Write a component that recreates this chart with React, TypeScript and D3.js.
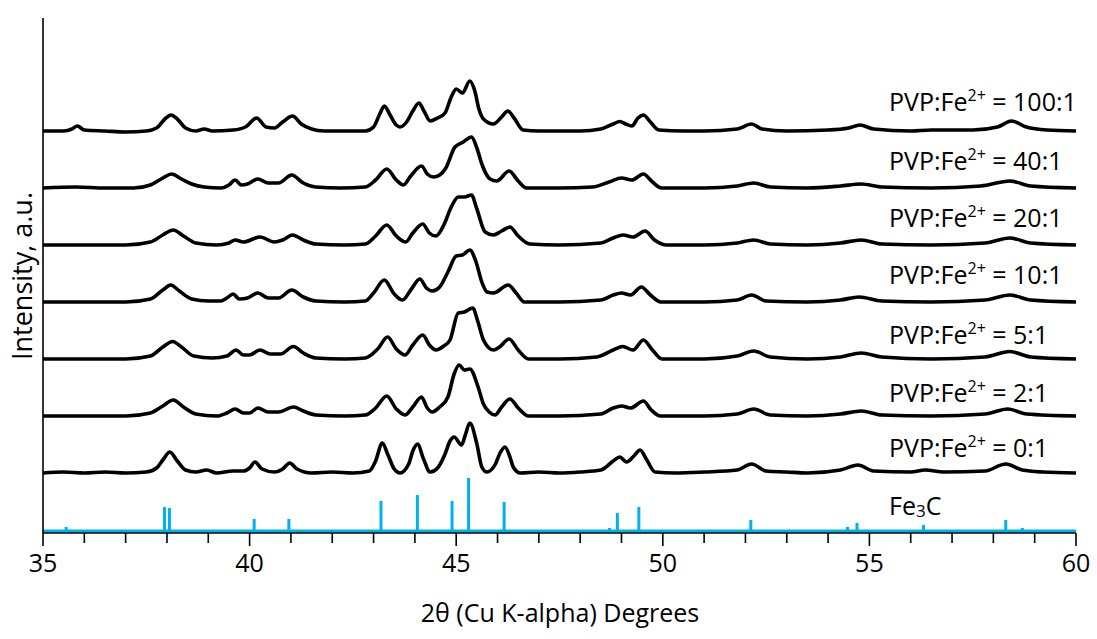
import React from "react";
import * as d3 from "d3";

// ---- data (2θ, intensity a.u.) ----
const seriesNames = ["0:1", "2:1", "5:1", "10:1", "20:1", "40:1", "100:1"];
const seriesOffsets = [60, 117, 174, 231, 288, 345, 402];

const s0: [number, number][] = [[35,0],[35.5,1],[36.0,0],[36.5,1],[37.0,0],[37.5,1],[37.75,5],[37.9,13],[38.07,21],[38.25,12],[38.45,3],[38.7,1],[38.96,3],[39.2,0],[39.6,2],[39.85,2],[40.0,5],[40.13,11],[40.3,4],[40.6,1],[40.8,4],[40.97,10],[41.15,4],[41.5,0],[42,1],[42.5,0],[42.9,2],[43.05,12],[43.21,30],[43.35,18],[43.5,4],[43.64,0],[43.85,9],[43.95,22],[44.07,29],[44.2,15],[44.37,1],[44.55,5],[44.73,19],[44.85,32],[44.95,36],[45.13,28],[45.22,38],[45.33,50],[45.5,29],[45.62,6],[45.74,1],[45.95,9],[46.05,19],[46.18,26],[46.3,16],[46.38,6],[46.55,0],[47,1],[47.5,0],[48,1],[48.5,3],[48.8,12],[48.96,16],[49.12,11],[49.3,17],[49.45,23],[49.6,14],[49.81,1],[50.3,0],[51,1],[51.8,3],[52.15,9],[52.5,2],[53,1],[53.5,0],[54.3,3],[54.72,8],[55.1,2],[56,1],[56.35,3],[56.8,1],[57.8,2],[58.3,9],[58.7,3],[59.2,1],[60,0]];
const s2: [number, number][] = [[35,0],[36,0],[37,0],[37.6,3],[37.9,10],[38.15,16],[38.4,9],[38.7,2],[39.2,0],[39.45,3],[39.65,7],[39.85,3],[40.0,3],[40.2,8],[40.45,4],[40.7,4],[41.06,9],[41.3,5],[41.6,1],[42.3,0],[42.8,1],[43.05,8],[43.32,20],[43.55,7],[43.76,1],[43.95,9],[44.16,19],[44.3,8],[44.42,4],[44.6,9],[44.8,19],[44.95,42],[45.07,51],[45.2,46],[45.33,47],[45.53,29],[45.66,12],[45.8,4],[45.94,1],[46.1,9],[46.3,17],[46.5,8],[46.75,0],[47.5,0],[48.5,2],[48.8,8],[49.0,10],[49.22,8],[49.53,15],[49.72,6],[49.95,0],[51,0],[51.8,2],[52.2,7],[52.6,1],[53.5,0],[54.3,2],[54.8,5],[55.3,1],[56.5,0],[57.8,2],[58.35,7],[58.8,2],[60,0]];
const s5: [number, number][] = [[35,0],[36,0],[37,0],[37.6,3],[37.9,12],[38.14,17.5],[38.35,12],[38.65,3],[39.1,1],[39.45,3],[39.67,9],[39.85,4],[40.0,4],[40.25,9],[40.5,5],[40.75,5],[41.06,12.5],[41.3,6],[41.6,1],[42.3,0],[42.8,1],[43.1,10],[43.34,22],[43.55,10],[43.76,4],[43.95,14],[44.19,24],[44.35,14],[44.51,9],[44.7,13],[44.85,19],[45.05,46],[45.2,47],[45.4,51],[45.52,38],[45.66,19],[45.9,9],[46.05,12],[46.28,20],[46.5,9],[46.75,0],[47.5,0],[48.4,2],[48.8,9],[49.03,12.5],[49.28,9],[49.53,19],[49.75,9],[49.98,0],[51,0],[51.8,3],[52.2,8],[52.6,2],[53.5,0],[54.3,2],[54.8,6],[55.3,2],[56.5,0],[57.8,2],[58.4,7.5],[58.9,2],[60,0]];
const s10: [number, number][] = [[35,0],[36,0],[37,0],[37.6,3],[37.9,12],[38.09,17],[38.3,11],[38.6,3],[39.0,1],[39.3,1],[39.45,4],[39.6,8],[39.75,3],[39.95,4],[40.2,9],[40.45,4],[40.7,4],[41.02,12],[41.3,5],[41.6,1],[42.3,0],[42.8,1],[43.0,9],[43.26,22],[43.5,8],[43.7,2],[43.9,12],[44.12,23],[44.28,14],[44.42,11],[44.6,15],[44.8,30],[45.0,46],[45.15,47],[45.33,52],[45.48,40],[45.62,20],[45.75,10],[45.9,9],[46.26,17],[46.45,9],[46.65,0],[47.5,0],[48.5,2],[48.8,7],[49.0,9],[49.22,7],[49.48,15],[49.7,7],[49.95,0],[51,0],[51.8,2],[52.15,7],[52.5,1],[53.5,0],[54.3,2],[54.75,5],[55.3,1],[56.5,0],[57.8,2],[58.4,7],[58.9,2],[60,0]];
const s20: [number, number][] = [[35,0],[36,0],[37,0],[37.6,3],[37.9,10],[38.15,15],[38.4,9],[38.7,2],[39.2,0],[39.5,2],[39.65,5],[39.85,3],[40.25,8],[40.6,3],[40.8,5],[41.04,10],[41.3,5],[41.6,1],[42.3,0],[42.8,1],[43.05,9],[43.32,20],[43.55,9],[43.78,3],[43.95,12],[44.19,21],[44.35,12],[44.51,9],[44.7,20],[44.88,38],[45.05,48],[45.2,48],[45.37,50],[45.5,36],[45.7,13],[45.9,10],[46.1,14],[46.3,18],[46.5,9],[46.78,1],[47.5,0],[48.5,2],[48.8,7],[49.04,10],[49.28,8],[49.57,14],[49.8,5],[50.1,0],[51,0],[51.8,2],[52.2,5],[52.6,1],[53.5,0],[54.3,2],[54.8,5],[55.3,1],[56.5,0],[57.8,2],[58.4,7],[58.9,2],[60,0]];
const s40: [number, number][] = [[35,0],[35.8,1],[36.5,0],[37.2,0],[37.6,3],[37.9,10],[38.11,14],[38.35,9],[38.6,4],[38.9,1],[39.3,0],[39.5,3],[39.65,8],[39.8,3],[39.95,4],[40.2,9],[40.45,5],[40.7,5],[41.02,13],[41.3,5],[41.6,1],[42.2,0],[42.8,1],[43.05,8],[43.32,19],[43.55,8],[43.72,3],[43.9,12],[44.16,22],[44.3,14],[44.45,11],[44.6,13],[44.75,20],[44.97,41],[45.17,46],[45.37,51],[45.5,40],[45.62,24],[45.82,9],[45.98,7],[46.28,17],[46.5,7],[46.7,0],[47.5,0],[48.3,1],[48.7,6],[49.0,10],[49.25,8],[49.53,14],[49.75,6],[49.97,0],[51,0],[51.8,2],[52.2,5],[52.6,1],[53.5,0],[54.3,2],[54.8,4],[55.3,1],[56.5,0],[57.7,2],[58.4,7],[58.9,2],[60,0]];
const s100: [number, number][] = [[35,0],[35.5,0],[35.7,2],[35.83,5],[36.0,1],[36.5,0],[37.0,-1],[37.5,0],[37.75,3],[37.95,12],[38.1,16],[38.25,12],[38.45,3],[38.7,0],[38.9,2],[39.1,0],[39.6,1],[39.9,4],[40.17,13],[40.4,4],[40.6,3],[40.8,9],[41.04,15],[41.25,7],[41.5,2],[41.8,0],[42.3,0],[42.8,0],[43.0,4],[43.15,17],[43.26,25],[43.4,16],[43.55,6],[43.64,4],[43.8,9],[43.95,20],[44.1,28],[44.22,20],[44.37,10],[44.55,13],[44.73,18],[44.88,34],[45.0,42],[45.15,38],[45.33,50],[45.45,40],[45.55,22],[45.66,12],[45.9,7],[46.1,14],[46.25,20],[46.4,13],[46.62,1],[47,0],[47.5,0],[48,0],[48.5,2],[48.8,7],[48.96,9.5],[49.1,7],[49.25,5],[49.4,13],[49.53,16],[49.7,9],[49.9,1],[50.5,0],[51,0],[51.8,2],[52.15,7],[52.4,2],[53,0],[54,1],[54.5,3],[54.77,6],[55.1,2],[56,0],[56.5,1],[57.5,1],[58.1,4],[58.44,10],[58.8,4],[59.3,1],[60,0]];
const seriesData = [s0, s2, s5, s10, s20, s40, s100];

// Fe3C reference sticks: [2θ, relative intensity]
const fe3cPos = [35.56, 37.94, 38.06, 40.11, 40.95, 43.18, 44.06, 44.9, 45.3, 46.16, 48.71, 48.9, 49.42, 52.13, 54.47, 54.7, 56.31, 58.3, 58.7];
const fe3cInt = [4, 24, 23, 12, 12, 30, 36, 30, 53, 29, 3, 18, 24, 11, 4, 8, 6, 11, 3];
const fe3cOffset = 2;

const xTicksMajor = [35, 40, 45, 50, 55, 60];
const labelY = [457, 402, 344, 284, 227, 170, 111];

const W = 1097, H = 639;
const FONT = "'Open Sans', sans-serif";
const BLUE = "#00B0F0";

export default function App() {
  const x = d3.scaleLinear().domain([35, 60]).range([43, 1076]);
  const y = d3.scaleLinear().domain([0, 515]).range([533, 18]);
  const minor = d3.range(35, 61, 1);

  const paths = seriesData.map((s, i) =>
    d3.line<[number, number]>()
      .x((d) => x(d[0]))
      .y((d) => y(d[1] + seriesOffsets[i]))
      .curve(d3.curveMonotoneX)(s) as string
  );

  const stickPts: [number, number][] = [[35, 0]];
  fe3cPos.forEach((p, i) => {
    stickPts.push([p, 0], [p, fe3cInt[i]], [p, 0]);
  });
  stickPts.push([60, 0]);
  const stickPath = d3.line<[number, number]>()
    .x((d) => x(d[0]))
    .y((d) => y(d[1] + fe3cOffset))(stickPts) as string;

  return (
    <svg width={W} height={H} style={{ position: "absolute", left: 0, top: 0, background: "#fff" }} fontFamily={FONT}>
      <rect x={0} y={0} width={W} height={H} fill="#fff" />
      {/* Fe3C sticks */}
      <path d={stickPath} fill="none" stroke={BLUE} strokeWidth={3} strokeLinejoin="miter" />
      {/* traces */}
      {paths.map((p, i) => (
        <path key={i} d={p} fill="none" stroke="#000" strokeWidth={3.6} strokeLinejoin="round" />
      ))}
      {/* axes */}
      <line x1={x(35)} x2={x(35)} y1={18} y2={y(0)} stroke="#000" strokeWidth={1.6} />
      <line x1={x(35)} x2={x(60)} y1={y(0)} y2={y(0)} stroke="#000" strokeWidth={1.6} />
      {minor.map((t) => (
        <line key={"m" + t} x1={x(t)} x2={x(t)} y1={y(0)} y2={y(0) + (t % 5 === 0 ? 13 : 10)} stroke="#000" strokeWidth={1.6} />
      ))}
      {xTicksMajor.map((t) => (
        <text key={"t" + t} x={x(t)} y={572} textAnchor="middle" fontSize={25} fill="#000">{t}</text>
      ))}
      <text x={560} y={622} textAnchor="middle" fontSize={25} fill="#000">2θ (Cu K-alpha) Degrees</text>
      <text transform={`translate(32,276) rotate(-90)`} textAnchor="middle" fontSize={27} fill="#000">Intensity, a.u.</text>
      {/* labels */}
      {seriesNames.map((n, i) => (
        <text key={"l" + i} x={889} y={labelY[i]} fontSize={25} fill="#000">
          <tspan>PVP:Fe</tspan>
          <tspan dy={-10} fontSize={16}>2+</tspan>
          <tspan dy={10}>{" = " + n}</tspan>
        </text>
      ))}
      <text x={889} y={515} fontSize={25} fill="#000">
        <tspan>Fe</tspan>
        <tspan dy={2} fontSize={17}>3</tspan>
        <tspan dy={-2}>C</tspan>
      </text>
    </svg>
  );
}
